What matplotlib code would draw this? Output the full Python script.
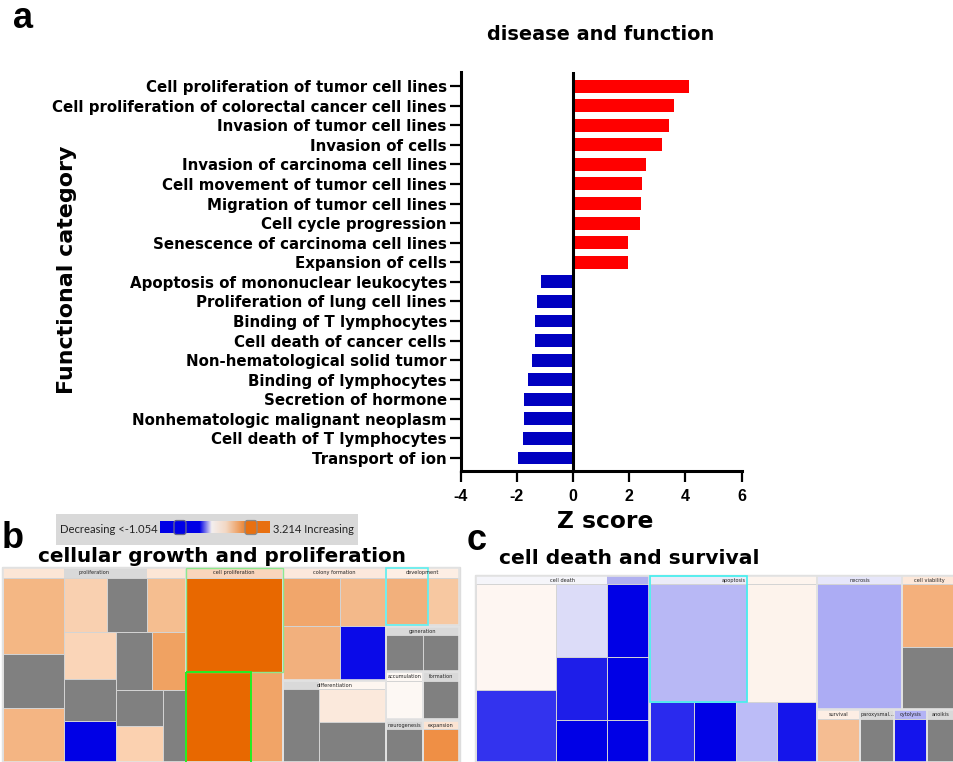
import matplotlib
matplotlib.use('Agg')
import matplotlib.pyplot as plt
import numpy as np
from matplotlib.patches import Rectangle, FancyBboxPatch
from matplotlib.colors import LinearSegmentedColormap

plt.rcParams['font.family'] = ['DejaVu Sans']

# ---------------- panel a data ----------------
categories = [
    "Cell proliferation of tumor cell lines",
    "Cell proliferation of colorectal cancer cell lines",
    "Invasion of tumor cell lines",
    "Invasion of cells",
    "Invasion of carcinoma cell lines",
    "Cell movement of tumor cell lines",
    "Migration of tumor cell lines",
    "Cell cycle progression",
    "Senescence of carcinoma cell lines",
    "Expansion of cells",
    "Apoptosis of mononuclear leukocytes",
    "Proliferation of lung cell lines",
    "Binding of T lymphocytes",
    "Cell death of cancer cells",
    "Non-hematological solid tumor",
    "Binding of lymphocytes",
    "Secretion of hormone",
    "Nonhematologic malignant neoplasm",
    "Cell death of T lymphocytes",
    "Transport of ion",
]
z_scores = [4.13, 3.59, 3.41, 3.17, 2.59, 2.46, 2.41, 2.37, 1.95, 1.95,
            -1.16, -1.29, -1.37, -1.37, -1.46, -1.59, -1.76, -1.76, -1.80, -1.97]
x_ticks = [-4, -2, 0, 2, 4, 6]

# ---------------- panel b treemap (pixel layout) ----------------
GRAY = '#808080'
LGRAY = '#d9d9d9'
b_cells = [
    (2.7, 577.7, 64.3, 654, '#f4b784'),
    (2.7, 654, 64.3, 708.3, GRAY),
    (2.7, 708.3, 64.3, 762, '#f4b583'),
    (64.3, 577.7, 106.7, 632.3, '#f9d0b0'),
    (106.7, 577.7, 147, 632.3, GRAY),
    (147, 577.7, 185.7, 632.3, '#f5be90'),
    (64.3, 632.3, 116, 679, '#fad5b8'),
    (116, 632.3, 152.3, 690, GRAY),
    (152.3, 632.3, 185.7, 690, '#f0a262'),
    (64.3, 679, 116, 721, GRAY),
    (64.3, 721, 116, 762, '#0000e6'),
    (116, 690, 163.3, 726, GRAY),
    (116, 726, 163.3, 762, '#fbd1b0'),
    (163.3, 690, 185.7, 762, GRAY),
    (185.7, 577.7, 282.7, 672.3, '#e86800'),
    (185.7, 672.3, 251, 762, '#e86800'),
    (251, 672.3, 282.7, 762, '#f1a467'),
    (282.7, 577.7, 340, 625.7, '#f1a66b'),
    (340, 577.7, 385.7, 625.7, '#f3b98a'),
    (282.7, 625.7, 340, 680, '#f2b07d'),
    (340, 625.7, 385.7, 680, '#0a0ae8'),
    (282.7, 689.3, 319, 762, GRAY),
    (319, 689.3, 385.7, 721.7, '#fbe9dc'),
    (319, 721.7, 385.7, 762, GRAY),
    (385.7, 577.7, 428, 625, '#f2b07c'),
    (428, 577.7, 459.3, 625, '#f7c8a1'),
    (385.7, 635, 422.7, 671, GRAY),
    (422.7, 635, 459.3, 671, GRAY),
    (385.7, 681, 422.7, 719, '#fdf8f4'),
    (422.7, 681, 459.3, 719, GRAY),
    (385.7, 729.3, 422.7, 762, GRAY),
    (422.7, 729.3, 459.3, 762, '#ef8f45'),
]
b_headers = [
    (2.7, 568.3, 64.3, 577.7, '#fce6d6'),
    (64.3, 568.3, 147, 577.7, LGRAY),
    (147, 568.3, 185.7, 577.7, '#fce6d6'),
    (185.7, 568.3, 282.7, 577.7, '#f9d5bc'),
    (282.7, 568.3, 385.7, 577.7, '#fce8dc'),
    (385.7, 568.3, 459.3, 577.7, '#fdeee4'),
    (282.7, 681, 319, 689.3, LGRAY),
    (319, 681, 385.7, 689.3, '#fdf6f0'),
    (385.7, 626.7, 459.3, 635, LGRAY),
    (385.7, 672.3, 422.7, 681, '#fdf8f4'),
    (422.7, 672.3, 459.3, 681, LGRAY),
    (385.7, 720.7, 422.7, 729.3, LGRAY),
    (422.7, 720.7, 459.3, 729.3, '#fce4d2'),
]
b_groups = [
    ("proliferation", 2.7, 568.3, 185.7, 762),
    ("cell proliferation", 185.7, 568.3, 282.7, 762),
    ("colony formation", 282.7, 568.3, 385.7, 680),
    ("differentiation", 282.7, 681, 385.7, 762),
    ("development", 385.7, 568.3, 459.3, 625),
    ("generation", 385.7, 626.7, 459.3, 671),
    ("accumulation", 385.7, 672.3, 422.7, 719),
    ("formation", 422.7, 672.3, 459.3, 719),
    ("neurogenesis", 385.7, 720.7, 422.7, 762),
    ("expansion", 422.7, 720.7, 459.3, 762),
]

# ---------------- panel c treemap ----------------
c_cells = [
    (475.7, 584, 556, 689.7, '#fef6f2'),
    (475.7, 689.7, 556, 762, '#3333ee'),
    (556, 584, 606.7, 657.3, '#dcdcf8'),
    (606.7, 584, 649.3, 657.3, '#0000e6'),
    (556, 657.3, 606.7, 720, '#1e1ee9'),
    (606.7, 657.3, 649.3, 720, '#0000e6'),
    (556, 720, 606.7, 762, '#0000e6'),
    (606.7, 720, 649.3, 762, '#0000e6'),
    (650, 584, 746.7, 702.3, '#b8b8f5'),
    (746.7, 584, 817.3, 702.3, '#fdf3ec'),
    (650, 702.3, 694, 762, '#2a2aee'),
    (694, 702.3, 735.7, 762, '#0000e6'),
    (735.7, 702.3, 777.3, 762, '#bcbcf7'),
    (777.3, 702.3, 817.3, 762, '#1515eb'),
    (817.3, 584, 902, 709, '#acacf4'),
    (902, 584, 954, 647.3, '#f4b07c'),
    (902, 647.3, 954, 709, GRAY),
    (817.3, 719, 860, 762, '#f5bd92'),
    (860, 719, 894, 762, GRAY),
    (894, 719, 927.3, 762, '#1414ec'),
    (927.3, 719, 954, 762, GRAY),
]
c_headers = [
    (475.7, 575.5, 606.7, 584, '#f5f5fa'),
    (606.7, 575.5, 649.3, 584, '#b0b0f0'),
    (650, 575.5, 746.7, 584, '#ececf8'),
    (746.7, 575.5, 817.3, 584, '#fdf4ee'),
    (817.3, 575.5, 902, 584, '#e6e6fa'),
    (902, 575.5, 954, 584, '#fde8da'),
    (817.3, 710, 860, 719, '#fdeee4'),
    (860, 710, 894, 719, LGRAY),
    (894, 710, 927.3, 719, '#b3b3f5'),
    (927.3, 710, 954, 719, LGRAY),
]
c_groups = [
    ("cell death", 475.7, 575.5, 649.3, 762),
    ("apoptosis", 650, 575.5, 817.3, 762),
    ("necrosis", 817.3, 575.5, 902, 709),
    ("cell viability", 902, 575.5, 956, 709),
    ("survival", 817.3, 710, 860, 762),
    ("paroxysmal...", 860, 710, 894, 762),
    ("cytolysis", 894, 710, 927.3, 762),
    ("anoikis", 927.3, 710, 954, 762),
]

# ---------------- figure ----------------
fig = plt.figure(figsize=(9.54, 7.62), dpi=100)
W, H = 954, 762
ARIAL = ['Liberation Sans', 'DejaVu Sans']

ov = fig.add_axes([0, 0, 1, 1])
ov.set_xlim(0, W)
ov.set_ylim(H, 0)
ov.axis('off')

# panel a axes
ax = fig.add_axes([460.7 / W, 1 - 470.7 / H, 281.0 / W, 398.7 / H])
ypos = np.arange(len(categories))
bar_colors = ['#ff0000' if v > 0 else '#0000c0' for v in z_scores]
ax.barh(ypos, z_scores, height=0.66, color=bar_colors, zorder=2)
ax.axvline(0, color='black', lw=2.2, zorder=3)
ax.set_xlim(-4, 6)
ax.set_ylim(19.65, -0.72)
ax.set_yticks(ypos)
ax.set_yticklabels(categories, fontsize=10.8, fontweight='bold')
ax.set_xticks(x_ticks)
ax.set_xticklabels([str(t) for t in x_ticks], fontsize=11.5, fontweight='bold', family=ARIAL)
for s in ['top', 'right']:
    ax.spines[s].set_visible(False)
for s in ['left', 'bottom']:
    ax.spines[s].set_linewidth(2.2)
ax.tick_params(axis='y', length=8, width=1.6, pad=2)
ax.tick_params(axis='x', length=8, width=1.6, pad=5)
ax.set_facecolor('none')

ov.text(601, 34, "disease and function", fontsize=13.9, fontweight='bold', ha='center', va='center')
ov.text(67, 270, "Functional category", fontsize=15.9, fontweight='bold', ha='center', va='center', rotation=90)
ov.text(605, 521, "Z score", fontsize=16.8, fontweight='bold', ha='center', va='center')
ov.text(23, 19, "a", fontsize=26, fontweight='bold', ha='center', va='center', family=ARIAL)
ov.text(13, 538, "b", fontsize=26, fontweight='bold', ha='center', va='center', family=ARIAL)
ov.text(477, 540, "c", fontsize=26, fontweight='bold', ha='center', va='center', family=ARIAL)

# legend (panel b)
ov.add_patch(Rectangle((55.7, 514), 302.3, 31, facecolor='#d9d9d9', edgecolor='none'))
ov.text(60, 529.5, "Decreasing <-1.054", fontsize=8.1, family='Lato', ha='left', va='center', color='#222222')
ov.text(273, 529.5, "3.214 Increasing", fontsize=8.0, family='Lato', ha='left', va='center', color='#222222')
cmap = LinearSegmentedColormap.from_list('leg', [(0, '#0000e6'), (0.36, '#0000e6'), (0.47, '#f3efef'),
                                                 (0.6, '#f3d8c4'), (0.82, '#e87010'), (1.0, '#e87010')])
grad = np.linspace(0, 1, 256).reshape(1, -1)
ov.imshow(grad, cmap=cmap, extent=(160, 269.3, 533.3, 521.7), aspect='auto', zorder=3)
ov.add_patch(FancyBboxPatch((174, 520.5), 12, 14, boxstyle='round,pad=0,rounding_size=2.5',
                            facecolor='#0000e6', edgecolor='#6a6a8a', lw=0.9, zorder=4))
ov.add_patch(FancyBboxPatch((245, 520.5), 12, 14, boxstyle='round,pad=0,rounding_size=2.5',
                            facecolor='#e87010', edgecolor='#8a8a8a', lw=0.9, zorder=4))
ov.set_xlim(0, W)
ov.set_ylim(H, 0)

ov.text(222, 556, "cellular growth and proliferation", fontsize=14.45, fontweight='bold', ha='center', va='center')
ov.text(629.5, 558, "cell death and survival", fontsize=14.6, fontweight='bold', ha='center', va='center')


def draw_treemap(cells, headers, groups, frame):
    fx0, fy0, fx1, fy1 = frame
    ov.add_patch(Rectangle((fx0 - 1, fy0 - 1), fx1 - fx0 + 2, fy1 - fy0 + 2, facecolor='#e6e6e6',
                           edgecolor='#dddddd', lw=1, zorder=1))
    for x0, y0, x1, y1, c in cells:
        ov.add_patch(Rectangle((x0, y0), x1 - x0, y1 - y0, facecolor=c, edgecolor='#d4d4d4', lw=0.7, zorder=2))
    for x0, y0, x1, y1, c in headers:
        ov.add_patch(Rectangle((x0, y0), x1 - x0, y1 - y0, facecolor=c, edgecolor='none', zorder=2))
    for name, x0, y0, x1, y1 in groups:
        ov.add_patch(Rectangle((x0, y0), x1 - x0, y1 - y0, facecolor='none', edgecolor='#e2e2e2', lw=1.2, zorder=3))
        ov.text((x0 + x1) / 2, y0 + 4.6, name, fontsize=3.6, ha='center', va='center', color='#222222',
                zorder=5)


draw_treemap(b_cells, b_headers, b_groups, (2.7, 568.3, 459.3, 762))
draw_treemap(c_cells, c_headers, c_groups, (475.7, 575.5, 954, 762))

# highlight borders
ov.add_patch(Rectangle((185.7, 568.3), 97, 104, facecolor='none', edgecolor='#8ee88e', lw=1.0, zorder=4))
ov.add_patch(Rectangle((185.7, 672.3), 65.3, 92, facecolor='none', edgecolor='#22ee22', lw=1.4, zorder=4))
ov.add_patch(Rectangle((385.7, 568.3), 42.3, 56.7, facecolor='none', edgecolor='#5ff0f0', lw=1.2, zorder=4))
ov.add_patch(Rectangle((650, 576), 96.7, 126.3, facecolor='none', edgecolor='#40f0f0', lw=1.2, zorder=4))

fig.savefig('out.png', dpi=100)
